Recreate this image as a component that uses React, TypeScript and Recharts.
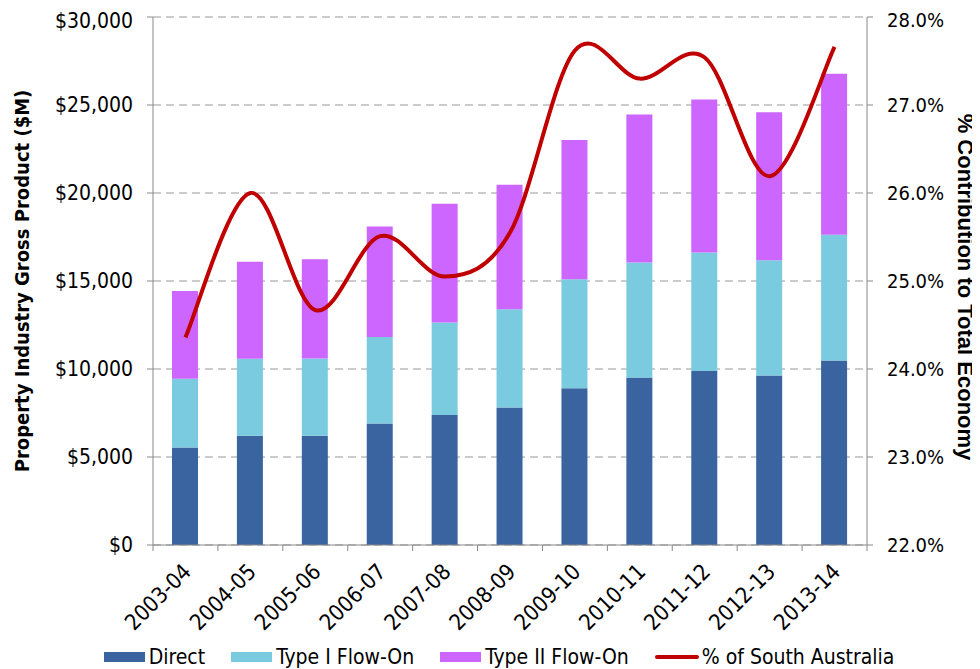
import { ComposedChart, Bar, Line, XAxis, YAxis, CartesianGrid } from "recharts";

const categories = [
  "2003-04", "2004-05", "2005-06", "2006-07", "2007-08", "2008-09",
  "2009-10", "2010-11", "2011-12", "2012-13", "2013-14",
];
const direct = [5535, 6207, 6207, 6899, 7387, 7814, 8913, 9524, 9890, 9626, 10480];
const typeOne = [3907, 4375, 4395, 4924, 5250, 5576, 6187, 6532, 6736, 6552, 7143];
const typeTwo = [4986, 5515, 5638, 6268, 6757, 7082, 7916, 8405, 8689, 8405, 9158];
const shareSA = [24.36, 26.0, 24.67, 25.51, 25.05, 25.55, 27.62, 27.3, 27.54, 26.19, 27.66];

const leftTicks = [0, 5000, 10000, 15000, 20000, 25000, 30000];
const rightTicks = [22, 23, 24, 25, 26, 27, 28];

const data = categories.map((c, i) => ({
  year: c,
  direct: direct[i],
  typeOne: typeOne[i],
  typeTwo: typeTwo[i],
  share: shareSA[i],
}));

const FONT = "'DejaVu Sans Condensed', 'DejaVu Sans', sans-serif";
const ARIAL = "'Liberation Sans', Arial, sans-serif";
const AXIS = "#888888";
const COLORS = { direct: "#3A64A0", typeOne: "#7BCBE0", typeTwo: "#CC66FF", share: "#C00000" };

// Excel-style smoothed line (Catmull-Rom as cubic beziers)
function excelSmooth(context: any) {
  let pts: number[][] = [];
  return {
    areaStart() {},
    areaEnd() {},
    lineStart() {
      pts = [];
    },
    point(x: number, y: number) {
      pts.push([+x, +y]);
    },
    lineEnd() {
      if (!pts.length) return;
      context.moveTo(pts[0][0], pts[0][1]);
      for (let i = 0; i < pts.length - 1; i++) {
        const p0 = pts[i - 1] || pts[i];
        const p1 = pts[i];
        const p2 = pts[i + 1];
        const p3 = pts[i + 2] || p2;
        context.bezierCurveTo(
          p1[0] + (p2[0] - p0[0]) / 6,
          p1[1] + (p2[1] - p0[1]) / 6,
          p2[0] - (p3[0] - p1[0]) / 6,
          p2[1] - (p3[1] - p1[1]) / 6,
          p2[0],
          p2[1]
        );
      }
    },
  };
}

const money = (v: number) => "$" + v.toLocaleString("en-US");
const pct = (v: number) => v.toFixed(1) + "%";

function YearTick(props: any) {
  const { x, y, payload, index } = props;
  const half = payload && payload.offset ? payload.offset : 32.45;
  const last = index === categories.length - 1;
  const tx = x + 7;
  const ty = y + 20;
  return (
    <g>
      <line x1={x - half} x2={x - half} y1={y - 8} y2={y - 2} stroke={AXIS} />
      {last && <line x1={x + half} x2={x + half} y1={y - 8} y2={y - 2} stroke={AXIS} />}
      <text
        x={tx}
        y={ty}
        transform={`rotate(-45, ${tx}, ${ty})`}
        textAnchor="end"
        fontSize={22}
        fontFamily={FONT}
        fill="#000"
      >
        {payload.value}
      </text>
    </g>
  );
}

function LegendSwatch({ color, line }: { color: string; line?: boolean }) {
  if (line) {
    return <span style={{ display: "inline-block", width: 44, height: 4, borderRadius: 2, background: color, marginRight: 3 }} />;
  }
  return <span style={{ display: "inline-block", width: 41, height: 10, background: color, marginRight: 4 }} />;
}

function AxisTitle({ viewBox, dx, dy = 0, angle, text, size, family }: any) {
  const cx = viewBox.x + dx;
  const cy = viewBox.y + viewBox.height / 2 + dy;
  return (
    <text
      x={cx}
      y={cy}
      transform={`rotate(${angle}, ${cx}, ${cy})`}
      textAnchor="middle"
      dominantBaseline="central"
      fontSize={size}
      fontWeight="bold"
      fontFamily={family}
      fill="#000"
    >
      {text}
    </text>
  );
}

export default function App() {
  const legendItems = [
    { label: "Direct", color: COLORS.direct },
    { label: "Type I Flow-On", color: COLORS.typeOne },
    { label: "Type II Flow-On", color: COLORS.typeTwo },
    { label: "% of South Australia", color: COLORS.share, line: true },
  ];
  return (
    <div style={{ position: "relative", width: 972, height: 661 }}>
      <ComposedChart
        width={972}
        height={661}
        data={data}
        margin={{ top: 9, right: 0, left: 0, bottom: 0 }}
        barCategoryGap="0%"
      >
        <CartesianGrid yAxisId="left" vertical={false} stroke="#999" strokeDasharray="8 5" />
        <XAxis
          dataKey="year"
          height={124}
          axisLine={{ stroke: AXIS }}
          tickLine={false}
          tick={<YearTick />}
          interval={0}
        />
        <YAxis
          yAxisId="left"
          width={145}
          domain={[0, 30000]}
          ticks={leftTicks}
          tickFormatter={money}
          axisLine={{ stroke: AXIS }}
          tickLine={{ stroke: AXIS }}
          tickSize={6}
          tickMargin={14}
          tick={{ fontSize: 21, fontFamily: FONT, fill: "#000" }}
          label={{
            content: (p: any) => (
              <AxisTitle
                viewBox={p.viewBox}
                dx={14}
                angle={-90}
                size={20}
                family={FONT}
                text="Property Industry Gross Product ($M)"
              />
            ),
          }}
        />
        <YAxis
          yAxisId="right"
          orientation="right"
          width={113}
          domain={[22, 28]}
          ticks={rightTicks}
          tickFormatter={pct}
          axisLine={{ stroke: AXIS }}
          tickLine={{ stroke: AXIS }}
          tickSize={6}
          tickMargin={14}
          tick={{ fontSize: 20, fontFamily: FONT, fill: "#000" }}
          label={{
            content: (p: any) => (
              <AxisTitle
                viewBox={p.viewBox}
                dx={98}
                dy={6}
                angle={90}
                size={22}
                family={ARIAL}
                text="% Contribution to Total Economy"
              />
            ),
          }}
        />
        <Bar yAxisId="left" dataKey="direct" stackId="gp" fill={COLORS.direct} barSize={26} isAnimationActive={false} />
        <Bar yAxisId="left" dataKey="typeOne" stackId="gp" fill={COLORS.typeOne} barSize={26} isAnimationActive={false} />
        <Bar yAxisId="left" dataKey="typeTwo" stackId="gp" fill={COLORS.typeTwo} barSize={26} isAnimationActive={false} />
        <Line
          yAxisId="right"
          dataKey="share"
          type={excelSmooth as any}
          stroke={COLORS.share}
          strokeWidth={4}
          dot={false}
          activeDot={false}
          isAnimationActive={false}
        />
      </ComposedChart>
      <div
        style={{
          position: "absolute",
          left: 5,
          top: 637,
          width: 972,
          display: "flex",
          justifyContent: "center",
          alignItems: "center",
          gap: 26,
          fontFamily: FONT,
          fontSize: 21,
          color: "#000",
        }}
      >
        {legendItems.map((it) => (
          <span key={it.label} style={{ display: "flex", alignItems: "center", whiteSpace: "nowrap" }}>
            <LegendSwatch color={it.color} line={it.line} />
            {it.label}
          </span>
        ))}
      </div>
    </div>
  );
}
